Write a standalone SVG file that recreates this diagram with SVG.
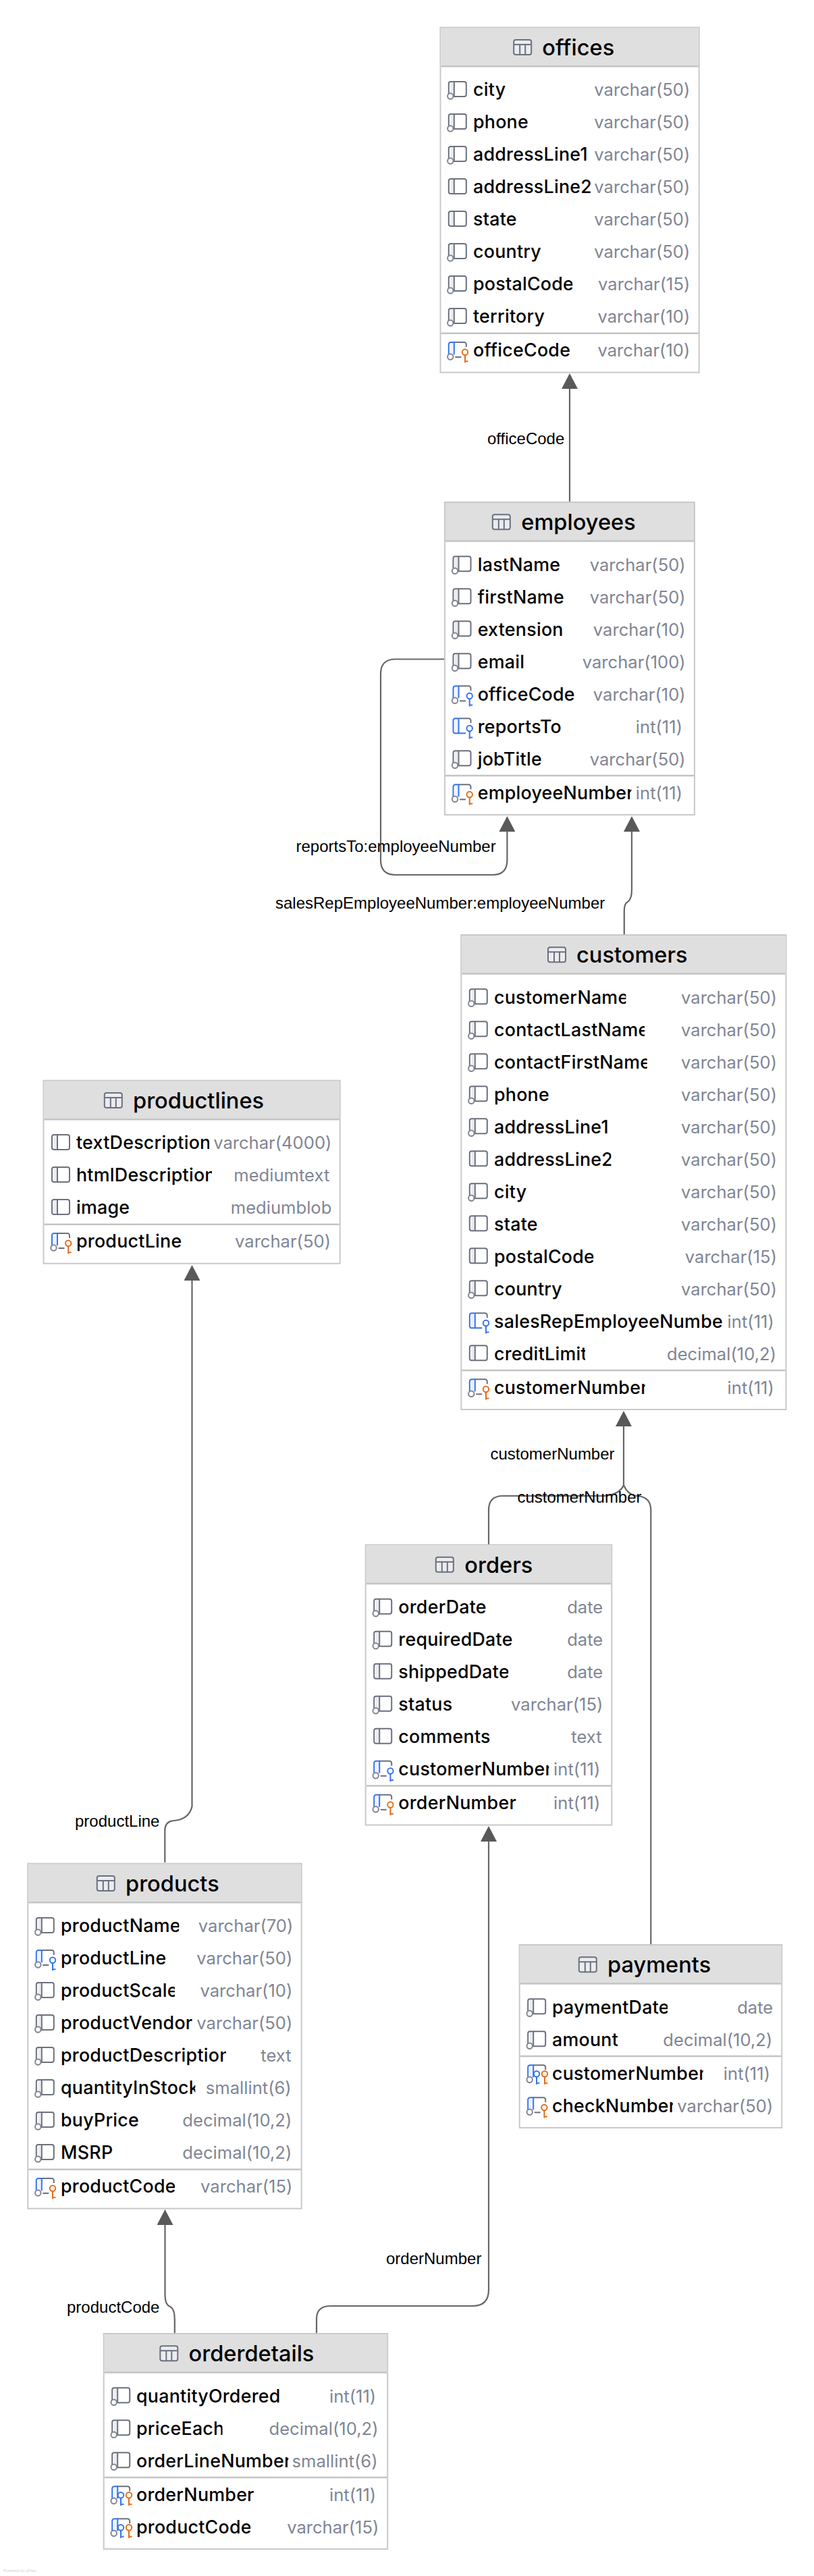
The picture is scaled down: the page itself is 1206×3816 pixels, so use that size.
<svg xmlns="http://www.w3.org/2000/svg" xmlns:xlink="http://www.w3.org/1999/xlink" width="1206" height="3816" viewBox="0 0 1206 3816">
<style>
.box{fill:#fff;stroke:#c9c9c9;stroke-width:2}
.head{fill:#dfdfdf}
.sep{stroke:#c4c4c4;stroke-width:2.5;fill:none}
.title{font:500 32.6px Inter,"Noto Sans",sans-serif;fill:#000;transform:translateY(.8px)}
.n{font:500 26.8px Inter,"Noto Sans",sans-serif;letter-spacing:.25px;fill:#000;transform:translateY(.6px)}
.t{font:400 25.6px Inter,"Noto Sans",sans-serif;fill:#818594;text-anchor:end;transform:translateY(.6px)}
.lbl{font:400 24px "Liberation Sans",Arial,sans-serif;fill:#000}
.conn{fill:none;stroke:#666;stroke-width:2.2}
.ig{fill:none;stroke:#6c707e;stroke-width:2}
.ib{fill:none;stroke:#3574f0;stroke-width:2}
.io{fill:none;stroke:#e66d17;stroke-width:2}
.pg{fill:#ebecf0}
.pb{fill:#edf3ff}
.ring{fill:#fff;stroke:#818594;stroke-width:2}
.kb{fill:#fff;stroke:#3574f0;stroke-width:2}
.ko{fill:#fff;stroke:#e66d17;stroke-width:2}
</style>
<defs>
<marker id="arrow" markerUnits="userSpaceOnUse" viewBox="0 0 23 24" markerWidth="23" markerHeight="24" refX="15" refY="12" orient="auto"><path d="M0 0L23 12L0 24Z" fill="#595959"/></marker>
<g id="tbl"><rect x="0.5" y="-11" width="26" height="22" rx="3" fill="#ebecf0" stroke="#6c707e" stroke-width="2"/><path d="M1-4H26M9.5-4V11M17.5-4V11" fill="none" stroke="#6c707e" stroke-width="2"/></g>
<g id="keyO"><path class="io" d="M0 4.5V15.5M0 13.5H4.5"/><circle class="ko" cx="0" cy="0" r="4.2"/></g>
<g id="keyB"><path class="ib" d="M0 4.5V15.5M0 13.5H4.5"/><circle class="kb" cx="0" cy="0" r="4.2"/></g>
<g id="colA"><path class="pg" d="M3-11H8.5V11H3Z"/><rect class="ig" x="0.5" y="-11" width="26" height="22" rx="3"/><path class="ig" d="M8.5-11V11"/></g>
<g id="colB"><use href="#colA"/><circle class="ring" cx="3" cy="10.5" r="4.2"/></g>
<g id="blueBase"><path class="pb" d="M3-11H8.5V8H3Z"/><path class="ig" d="M8.5-11H23.5A3 3 0 0 1 26.5-8V-4"/><path class="ib" d="M8.5 7V-11H3.5A3 3 0 0 0 0.5-8V7"/></g>
<g id="colC"><use href="#blueBase"/><path class="ig" d="M10 11H19"/><circle class="ring" cx="3" cy="10.5" r="4.2"/><use href="#keyO" x="24.7" y="3.7"/></g>
<g id="colD"><use href="#blueBase"/><path class="ig" d="M10 11H19"/><circle class="ring" cx="3" cy="10.5" r="4.2"/><use href="#keyB" x="24.7" y="3.7"/></g>
<g id="colE"><path class="pb" d="M3-11H8.5V11H3Z"/><path class="ig" d="M8.5-11H23.5A3 3 0 0 1 26.5-8V-4"/><path class="ib" d="M8.5-11V11M19 11H3.5A3 3 0 0 1 0.5 8V-8A3 3 0 0 1 3.5-11H8.5"/><use href="#keyB" x="24.7" y="3.7"/></g>
<g id="colF"><use href="#blueBase"/><circle class="ring" cx="3" cy="10.5" r="4.2"/><use href="#keyB" x="13.3" y="2"/><use href="#keyO" x="25.3" y="2"/></g>
<clipPath id="of1"><rect x="690" y="205" width="181.7" height="48"/></clipPath>
<clipPath id="of2"><rect x="690" y="253" width="185" height="48"/></clipPath>
<clipPath id="of3"><rect x="690" y="397" width="158.3" height="48"/></clipPath>
<clipPath id="em1"><rect x="700" y="1150" width="235.4" height="48"/></clipPath>
<clipPath id="cu1"><rect x="725" y="1453" width="202.4" height="48"/></clipPath>
<clipPath id="cu2"><rect x="725" y="1501" width="230" height="48"/></clipPath>
<clipPath id="cu3"><rect x="725" y="1549" width="233.7" height="48"/></clipPath>
<clipPath id="cu4"><rect x="725" y="1645" width="177.3" height="48"/></clipPath>
<clipPath id="cu5"><rect x="725" y="1693" width="180.5" height="48"/></clipPath>
<clipPath id="cu6"><rect x="725" y="1837" width="154.4" height="48"/></clipPath>
<clipPath id="cu7"><rect x="725" y="1933" width="346.6" height="48"/></clipPath>
<clipPath id="cu8"><rect x="725" y="1981" width="142" height="48"/></clipPath>
<clipPath id="cu9"><rect x="725" y="2031" width="230.6" height="48"/></clipPath>
<clipPath id="pl1"><rect x="105" y="1669" width="205" height="48"/></clipPath>
<clipPath id="pl2"><rect x="105" y="1717" width="209" height="48"/></clipPath>
<clipPath id="pl3"><rect x="105" y="1815" width="163.6" height="48"/></clipPath>
<clipPath id="or1"><rect x="585" y="2404" width="174.3" height="48"/></clipPath>
<clipPath id="or2"><rect x="585" y="2452" width="168.3" height="48"/></clipPath>
<clipPath id="or3"><rect x="585" y="2596" width="228.3" height="48"/></clipPath>
<clipPath id="pr1"><rect x="85" y="2829" width="180.3" height="48"/></clipPath>
<clipPath id="pr2"><rect x="85" y="2877" width="160.7" height="48"/></clipPath>
<clipPath id="pr3"><rect x="85" y="2925" width="174" height="48"/></clipPath>
<clipPath id="pr4"><rect x="85" y="2973" width="200" height="48"/></clipPath>
<clipPath id="pr5"><rect x="85" y="3021" width="250" height="48"/></clipPath>
<clipPath id="pr6"><rect x="85" y="3069" width="204.3" height="48"/></clipPath>
<clipPath id="pr7"><rect x="85" y="3215" width="174" height="48"/></clipPath>
<clipPath id="pa1"><rect x="812" y="2949" width="177" height="48"/></clipPath>
<clipPath id="pa2"><rect x="812" y="3047" width="229.7" height="48"/></clipPath>
<clipPath id="pa3"><rect x="812" y="3095" width="185" height="48"/></clipPath>
<clipPath id="od1"><rect x="197" y="3525" width="217.4" height="48"/></clipPath>
<clipPath id="od2"><rect x="197" y="3573" width="132.5" height="48"/></clipPath>
<clipPath id="od3"><rect x="197" y="3621" width="230.3" height="48"/></clipPath>
<clipPath id="od4"><rect x="197" y="3719" width="174.3" height="48"/></clipPath>
</defs>
<rect width="1206" height="3816" fill="#fff"/>

<g id="connectors">
<path id="c-employees-offices" class="conn" marker-end="url(#arrow)" d="M844 744V561"/>
<path id="c-employees-self" class="conn" marker-end="url(#arrow)" d="M658 976.5H586Q564 976.5 564 998V1274Q564 1296 586 1296H730Q751.4 1296 751.4 1274V1217"/>
<path id="c-customers-employees" class="conn" marker-end="url(#arrow)" d="M924.8 1384V1350Q924.8 1338 930 1336Q936 1332 936 1318V1217"/>
<path id="c-orders-customers" class="conn" marker-end="url(#arrow)" d="M724 2288V2237Q724 2216 745 2216H895Q918 2214 924 2200V2098"/>
<path id="c-payments-customers" class="conn" d="M964.3 2881V2237Q964.3 2218 945 2216H942Q930 2214 924 2200"/>
<path id="c-products-productlines" class="conn" marker-end="url(#arrow)" d="M244.3 2759V2712Q244.3 2698 258 2697Q280 2695 284.5 2676V1882"/>
<path id="c-orderdetails-products" class="conn" marker-end="url(#arrow)" d="M258.8 3456V3436Q258.8 3420 252 3417Q244.5 3414 244.5 3400V3281"/>
<path id="c-orderdetails-orders" class="conn" marker-end="url(#arrow)" d="M469 3456V3435Q469 3416 490 3416H700Q724 3416 724 3392V2713"/>
<text class="lbl" x="722" y="657.7">officeCode</text>
<text class="lbl" x="438.5" y="1262">reportsTo:employeeNumber</text>
<text class="lbl" x="408" y="1346">salesRepEmployeeNumber:employeeNumber</text>
<text class="lbl" x="726.5" y="2162">customerNumber</text>
<text class="lbl" x="766.5" y="2226">customerNumber</text>
<text class="lbl" x="111" y="2706">productLine</text>
<text class="lbl" x="99" y="3426">productCode</text>
<text class="lbl" x="572" y="3354">orderNumber</text>
</g>

<g id="offices">
<rect class="box" x="652.5" y="40.7" width="383.2" height="511"/><rect class="head" x="653.5" y="41.7" width="381.2" height="56"/><path class="sep" d="M653.5 98.2H1034.7M653.5 493.7H1034.7"/>
<use href="#tbl" x="760.7" y="70"/><text class="title" x="803.3" y="81">offices</text>
<use href="#colB" x="664.3" y="132"/><text class="n" x="701" y="141.7">city</text><text class="t" x="1022.3" y="141.7">varchar(50)</text>
<use href="#colB" x="664.3" y="180"/><text class="n" x="701" y="189.7">phone</text><text class="t" x="1022.3" y="189.7">varchar(50)</text>
<use href="#colB" x="664.3" y="228"/><text class="n" x="701" y="237.7" clip-path="url(#of1)">addressLine1</text><text class="t" x="1022.3" y="237.7">varchar(50)</text>
<use href="#colA" x="664.3" y="276"/><text class="n" x="701" y="285.7" clip-path="url(#of2)">addressLine2</text><text class="t" x="1022.3" y="285.7">varchar(50)</text>
<use href="#colA" x="664.3" y="324"/><text class="n" x="701" y="333.7">state</text><text class="t" x="1022.3" y="333.7">varchar(50)</text>
<use href="#colB" x="664.3" y="372"/><text class="n" x="701" y="381.7">country</text><text class="t" x="1022.3" y="381.7">varchar(50)</text>
<use href="#colB" x="664.3" y="420"/><text class="n" x="701" y="429.7" clip-path="url(#of3)">postalCode</text><text class="t" x="1022.3" y="429.7">varchar(15)</text>
<use href="#colB" x="664.3" y="468"/><text class="n" x="701" y="477.7">territory</text><text class="t" x="1022.3" y="477.7">varchar(10)</text>
<use href="#colC" x="664.3" y="518"/><text class="n" x="701" y="527.7">officeCode</text><text class="t" x="1022.3" y="527.7">varchar(10)</text>
</g>

<g id="employees">
<rect class="box" x="659" y="744" width="370" height="463"/><rect class="head" x="660" y="745" width="368" height="56"/><path class="sep" d="M660 801.5H1028M660 1149H1028"/>
<use href="#tbl" x="729.3" y="773.3"/><text class="title" x="772.3" y="784.3">employees</text>
<use href="#colB" x="671" y="835.3"/><text class="n" x="707.7" y="845">lastName</text><text class="t" x="1015.7" y="845">varchar(50)</text>
<use href="#colB" x="671" y="883.3"/><text class="n" x="707.7" y="893">firstName</text><text class="t" x="1015.7" y="893">varchar(50)</text>
<use href="#colB" x="671" y="931.3"/><text class="n" x="707.7" y="941">extension</text><text class="t" x="1015.7" y="941">varchar(10)</text>
<use href="#colB" x="671" y="979.3"/><text class="n" x="707.7" y="989">email</text><text class="t" x="1015.7" y="989">varchar(100)</text>
<use href="#colD" x="671" y="1027.3"/><text class="n" x="707.7" y="1037">officeCode</text><text class="t" x="1015.7" y="1037">varchar(10)</text>
<use href="#colE" x="671" y="1075.3"/><text class="n" x="707.7" y="1085">reportsTo</text><text class="t" x="1011" y="1085">int(11)</text>
<use href="#colB" x="671" y="1123.3"/><text class="n" x="707.7" y="1133">jobTitle</text><text class="t" x="1015.7" y="1133">varchar(50)</text>
<use href="#colC" x="671" y="1173.3"/><text class="n" x="707.7" y="1183" clip-path="url(#em1)">employeeNumber</text><text class="t" x="1011" y="1183">int(11)</text>
</g>

<g id="customers">
<rect class="box" x="683.3" y="1385" width="481.2" height="703"/><rect class="head" x="684.3" y="1386" width="479.2" height="56"/><path class="sep" d="M684.3 1442.5H1163.5M684.3 2030H1163.5"/>
<use href="#tbl" x="811.5" y="1414.3"/><text class="title" x="854" y="1425.3">customers</text>
<use href="#colB" x="695.3" y="1476.3"/><text class="n" x="732" y="1486" clip-path="url(#cu1)">customerName</text><text class="t" x="1151" y="1486">varchar(50)</text>
<use href="#colB" x="695.3" y="1524.3"/><text class="n" x="732" y="1534" clip-path="url(#cu2)">contactLastName</text><text class="t" x="1151" y="1534">varchar(50)</text>
<use href="#colB" x="695.3" y="1572.3"/><text class="n" x="732" y="1582" clip-path="url(#cu3)">contactFirstName</text><text class="t" x="1151" y="1582">varchar(50)</text>
<use href="#colB" x="695.3" y="1620.3"/><text class="n" x="732" y="1630">phone</text><text class="t" x="1151" y="1630">varchar(50)</text>
<use href="#colB" x="695.3" y="1668.3"/><text class="n" x="732" y="1678" clip-path="url(#cu4)">addressLine1</text><text class="t" x="1151" y="1678">varchar(50)</text>
<use href="#colA" x="695.3" y="1716.3"/><text class="n" x="732" y="1726" clip-path="url(#cu5)">addressLine2</text><text class="t" x="1151" y="1726">varchar(50)</text>
<use href="#colB" x="695.3" y="1764.3"/><text class="n" x="732" y="1774">city</text><text class="t" x="1151" y="1774">varchar(50)</text>
<use href="#colA" x="695.3" y="1812.3"/><text class="n" x="732" y="1822">state</text><text class="t" x="1151" y="1822">varchar(50)</text>
<use href="#colA" x="695.3" y="1860.3"/><text class="n" x="732" y="1870" clip-path="url(#cu6)">postalCode</text><text class="t" x="1151" y="1870">varchar(15)</text>
<use href="#colB" x="695.3" y="1908.3"/><text class="n" x="732" y="1918">country</text><text class="t" x="1151" y="1918">varchar(50)</text>
<use href="#colE" x="695.3" y="1956.3"/><text class="n" x="732" y="1966" clip-path="url(#cu7)">salesRepEmployeeNumber</text><text class="t" x="1146.8" y="1966">int(11)</text>
<use href="#colA" x="695.3" y="2004.3"/><text class="n" x="732" y="2014" clip-path="url(#cu8)">creditLimit</text><text class="t" x="1150" y="2014">decimal(10,2)</text>
<use href="#colC" x="695.3" y="2054.3"/><text class="n" x="732" y="2064" clip-path="url(#cu9)">customerNumber</text><text class="t" x="1146.8" y="2064">int(11)</text>
</g>

<g id="productlines">
<rect class="box" x="64.5" y="1600.7" width="439.2" height="271"/><rect class="head" x="65.5" y="1601.7" width="437.2" height="56"/><path class="sep" d="M65.5 1658.2H502.7M65.5 1813.7H502.7"/>
<use href="#tbl" x="154.3" y="1630"/><text class="title" x="197" y="1641">productlines</text>
<use href="#colA" x="76.5" y="1692"/><text class="n" x="113" y="1701.7" clip-path="url(#pl1)">textDescription</text><text class="t" x="491.4" y="1701.7">varchar(4000)</text>
<use href="#colA" x="76.5" y="1740"/><text class="n" x="113" y="1749.7" clip-path="url(#pl2)">htmlDescription</text><text class="t" x="488.3" y="1749.7">mediumtext</text>
<use href="#colA" x="76.5" y="1788"/><text class="n" x="113" y="1797.7">image</text><text class="t" x="491.4" y="1797.7">mediumblob</text>
<use href="#colC" x="76.5" y="1838"/><text class="n" x="113" y="1847.7" clip-path="url(#pl3)">productLine</text><text class="t" x="490" y="1847.7">varchar(50)</text>
</g>

<g id="orders">
<rect class="box" x="541.7" y="2288.5" width="364.6" height="415"/><rect class="head" x="542.7" y="2289.5" width="362.6" height="56"/><path class="sep" d="M542.7 2346H905.3M542.7 2645.5H905.3"/>
<use href="#tbl" x="645.3" y="2317.8"/><text class="title" x="688.3" y="2328.8">orders</text>
<use href="#colB" x="553.7" y="2379.8"/><text class="n" x="590.3" y="2389.5">orderDate</text><text class="t" x="893.3" y="2389.5">date</text>
<use href="#colB" x="553.7" y="2427.8"/><text class="n" x="590.3" y="2437.5" clip-path="url(#or1)">requiredDate</text><text class="t" x="893.3" y="2437.5">date</text>
<use href="#colA" x="553.7" y="2475.8"/><text class="n" x="590.3" y="2485.5" clip-path="url(#or2)">shippedDate</text><text class="t" x="893.3" y="2485.5">date</text>
<use href="#colB" x="553.7" y="2523.8"/><text class="n" x="590.3" y="2533.5">status</text><text class="t" x="893.3" y="2533.5">varchar(15)</text>
<use href="#colA" x="553.7" y="2571.8"/><text class="n" x="590.3" y="2581.5">comments</text><text class="t" x="891.7" y="2581.5">text</text>
<use href="#colD" x="553.7" y="2619.8"/><text class="n" x="590.3" y="2629.5" clip-path="url(#or3)">customerNumber</text><text class="t" x="889.3" y="2629.5">int(11)</text>
<use href="#colC" x="553.7" y="2669.8"/><text class="n" x="590.3" y="2679.5">orderNumber</text><text class="t" x="889.3" y="2679.5">int(11)</text>
</g>

<g id="products">
<rect class="box" x="41.3" y="2760.7" width="405.4" height="511"/><rect class="head" x="42.3" y="2761.7" width="403.4" height="56"/><path class="sep" d="M42.3 2818.2H445.7M42.3 3213.7H445.7"/>
<use href="#tbl" x="143.3" y="2790"/><text class="title" x="186" y="2801">products</text>
<use href="#colB" x="53.3" y="2852"/><text class="n" x="90" y="2861.7" clip-path="url(#pr1)">productName</text><text class="t" x="434.3" y="2861.7">varchar(70)</text>
<use href="#colD" x="53.3" y="2900"/><text class="n" x="90" y="2909.7" clip-path="url(#pr2)">productLine</text><text class="t" x="433.3" y="2909.7">varchar(50)</text>
<use href="#colB" x="53.3" y="2948"/><text class="n" x="90" y="2957.7" clip-path="url(#pr3)">productScale</text><text class="t" x="433.3" y="2957.7">varchar(10)</text>
<use href="#colB" x="53.3" y="2996"/><text class="n" x="90" y="3005.7" clip-path="url(#pr4)">productVendor</text><text class="t" x="433.3" y="3005.7">varchar(50)</text>
<use href="#colB" x="53.3" y="3044"/><text class="n" x="90" y="3053.7" clip-path="url(#pr5)">productDescription</text><text class="t" x="431.7" y="3053.7">text</text>
<use href="#colB" x="53.3" y="3092"/><text class="n" x="90" y="3101.7" clip-path="url(#pr6)">quantityInStock</text><text class="t" x="431.7" y="3101.7">smallint(6)</text>
<use href="#colB" x="53.3" y="3140"/><text class="n" x="90" y="3149.7">buyPrice</text><text class="t" x="432.3" y="3149.7">decimal(10,2)</text>
<use href="#colB" x="53.3" y="3188"/><text class="n" x="90" y="3197.7">MSRP</text><text class="t" x="432.3" y="3197.7">decimal(10,2)</text>
<use href="#colC" x="53.3" y="3238"/><text class="n" x="90" y="3247.7" clip-path="url(#pr7)">productCode</text><text class="t" x="433.3" y="3247.7">varchar(15)</text>
</g>

<g id="payments">
<rect class="box" x="769.7" y="2881" width="388.6" height="271"/><rect class="head" x="770.7" y="2882" width="386.6" height="56"/><path class="sep" d="M770.7 2938.5H1157.3M770.7 3046H1157.3"/>
<use href="#tbl" x="857.3" y="2910.3"/><text class="title" x="900" y="2921.3">payments</text>
<use href="#colB" x="781.7" y="2972.3"/><text class="n" x="818" y="2982" clip-path="url(#pa1)">paymentDate</text><text class="t" x="1145.3" y="2982">date</text>
<use href="#colB" x="781.7" y="3020.3"/><text class="n" x="818" y="3030">amount</text><text class="t" x="1144.3" y="3030">decimal(10,2)</text>
<use href="#colF" x="781.7" y="3070.3"/><text class="n" x="818" y="3080" clip-path="url(#pa2)">customerNumber</text><text class="t" x="1141" y="3080">int(11)</text>
<use href="#colC" x="781.7" y="3118.3"/><text class="n" x="818" y="3128" clip-path="url(#pa3)">checkNumber</text><text class="t" x="1145.3" y="3128">varchar(50)</text>
</g>

<g id="orderdetails">
<rect class="box" x="153.7" y="3457" width="420.5" height="319"/><rect class="head" x="154.7" y="3458" width="418.5" height="56"/><path class="sep" d="M154.7 3514.5H573.2M154.7 3670H573.2"/>
<use href="#tbl" x="236.8" y="3486.3"/><text class="title" x="279.5" y="3497.3">orderdetails</text>
<use href="#colB" x="165.7" y="3548.3"/><text class="n" x="202" y="3558" clip-path="url(#od1)">quantityOrdered</text><text class="t" x="557.2" y="3558">int(11)</text>
<use href="#colB" x="165.7" y="3596.3"/><text class="n" x="202" y="3606" clip-path="url(#od2)">priceEach</text><text class="t" x="560.5" y="3606">decimal(10,2)</text>
<use href="#colB" x="165.7" y="3644.3"/><text class="n" x="202" y="3654" clip-path="url(#od3)">orderLineNumber</text><text class="t" x="559.5" y="3654">smallint(6)</text>
<use href="#colF" x="165.7" y="3694.3"/><text class="n" x="202" y="3704">orderNumber</text><text class="t" x="557.2" y="3704">int(11)</text>
<use href="#colF" x="165.7" y="3742.3"/><text class="n" x="202" y="3752" clip-path="url(#od4)">productCode</text><text class="t" x="561.4" y="3752">varchar(15)</text>
</g>
<text x="5" y="3810" font-family="Liberation Sans, sans-serif" font-size="6" fill="#cfcfcf">Powered by yFiles</text>
</svg>
